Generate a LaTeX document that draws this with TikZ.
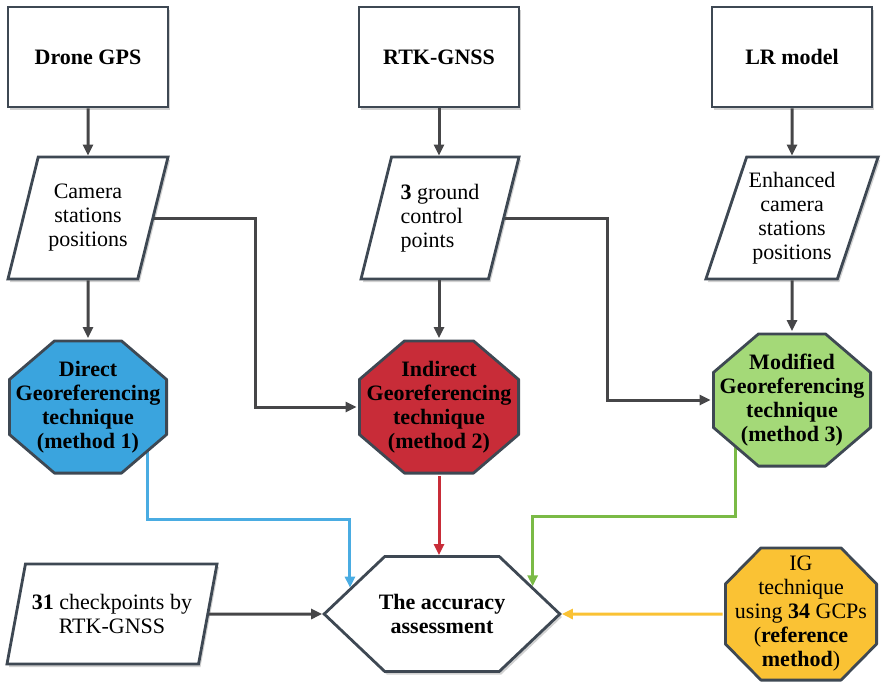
\documentclass[tikz,border=0pt]{standalone}
\usepackage{fontspec}
\setmainfont{Liberation Serif}
\usetikzlibrary{arrows.meta,calc,shapes.geometric,shapes.symbols,shadows,backgrounds}
\definecolor{edge}{RGB}{62,72,83}
\definecolor{wire}{RGB}{70,70,72}
\definecolor{dgblue}{RGB}{58,164,222}
\definecolor{dgline}{RGB}{74,172,226}
\definecolor{igred}{RGB}{200,44,56}
\definecolor{mggreen}{RGB}{164,217,120}
\definecolor{mgline}{RGB}{122,186,70}
\definecolor{refyellow}{RGB}{250,194,52}
\tikzset{
  every picture/.style={line width=1.4pt, font=\fontsize{11}{12}\selectfont},
  shade/.style={drop shadow={shadow xshift=1pt, shadow yshift=-1.5pt, opacity=.18, fill=black}},
  src/.style={draw=edge, fill=white, shade, minimum width=80pt, minimum height=50pt, font=\fontsize{11}{12}\selectfont\bfseries},
  data/.style={trapezium, trapezium left angle=67, trapezium right angle=113, trapezium stretches body,
    draw=edge, fill=white, shade, align=center, inner sep=1pt, minimum width=80pt, minimum height=61pt},
  % octagon drawn inside the node box: fill colour, corner cut x, corner cut y
  tech/.style n args={3}{minimum width=80pt, minimum height=67.5pt, align=center, inner sep=1pt,
    font=\fontsize{11}{12}\selectfont\bfseries,
    path picture={\draw[fill=#1, draw=edge, line width=1.4pt, line join=round]
      ([xshift=#2, yshift=-.7pt]path picture bounding box.north west)
      -- ([xshift=-#2, yshift=-.7pt]path picture bounding box.north east)
      -- ([xshift=-.7pt, yshift=-#3]path picture bounding box.north east)
      -- ([xshift=-.7pt, yshift=#3]path picture bounding box.south east)
      -- ([xshift=-#2, yshift=.7pt]path picture bounding box.south east)
      -- ([xshift=#2, yshift=.7pt]path picture bounding box.south west)
      -- ([xshift=.7pt, yshift=#3]path picture bounding box.south west)
      -- ([xshift=.7pt, yshift=-#3]path picture bounding box.north west) -- cycle;}},
  goal/.style={signal, signal to=west and east, signal pointer angle=87, draw=edge, fill=white, shade,
    minimum height=57.5pt, align=center, inner xsep=-3pt, inner ysep=1pt,
    font=\fontsize{11}{12}\selectfont\bfseries},
  flow/.style={-{Triangle[length=5.5pt,width=5pt]}, draw=wire, line width=1.5pt},
}

\begin{document}
\begin{tikzpicture}[x=0.5pt, y=-0.5pt]
  \useasboundingbox (0,0) rectangle (882,685);
  % sources
  \node[src] (gps) at (88,57) {Drone GPS};
  \node[src] (rtk) at (439,57) {RTK-GNSS};
  \node[src] (lrm) at (792,57) {LR model};
  % data
  \node[data] (cam) at (88,218) {Camera\\stations\\positions};
  \node[data, minimum width=79pt, align=left] (gcp) at (440,218) {\textbf{3} ground\\control\\points};
  \node[data] (enh) at (792,218) {Enhanced\\camera\\stations\\positions};
  % techniques
  \node[tech={dgblue}{23.25pt}{20pt}] (dgt) at (88,407) {Direct\\Georeferencing\\technique\\(method 1)};
  \node[tech={igred}{23.25pt}{20pt}, minimum width=81pt] (igt) at (439,407) {Indirect\\Georeferencing\\technique\\(method 2)};
  \node[tech={mggreen}{23.25pt}{20pt}] (mgt) at (792,400) {Modified\\Georeferencing\\technique\\(method 3)};
  % assessment
  \node[goal] (acc) at (442,614) {The accuracy\\assessment};
  \node[data, minimum width=105pt, minimum height=50pt] (chk) at (112,614) {\textbf{31} checkpoints by\\RTK-GNSS};
  \node[tech={refyellow}{18.5pt}{18.75pt}, minimum width=77pt, font=\fontsize{11}{12}\selectfont] (ref) at (801,614)
    {IG\\technique\\using \textbf{34} GCPs\\(\textbf{reference}\\\textbf{method})};

  \draw[flow] (gps) -- (cam);
  \draw[flow] (rtk) -- (gcp.north -| rtk);
  \draw[flow] (lrm) -- (enh);
  \draw[flow] (cam) -- (dgt);
  \draw[flow] (gcp.south -| igt) -- (igt);
  \draw[flow] (enh) -- (mgt);
  \draw[flow] (cam.east) -| ($(cam.east)!.5!(igt.west)$) |- (igt.west);
  \draw[flow] (gcp.east) -| ($(gcp.east)!.5!(mgt.west)$) |- (mgt.west);
  \draw[flow, draw=igred] (igt.south) -- (igt.south |- acc.north);
  \draw[flow] (chk) -- (acc);
  \draw[flow, draw=refyellow] (ref) -- (acc);
  \begin{scope}[on background layer]
    \draw[flow, draw=dgline] ($(dgt.center)+(59,0)$) -- ++(0,112) -| (acc.164);
    \draw[flow, draw=mgline] ($(mgt.center)+(-57,0)$) -- ++(0,116) -| (acc.17);
  \end{scope}
\end{tikzpicture}
\end{document}
